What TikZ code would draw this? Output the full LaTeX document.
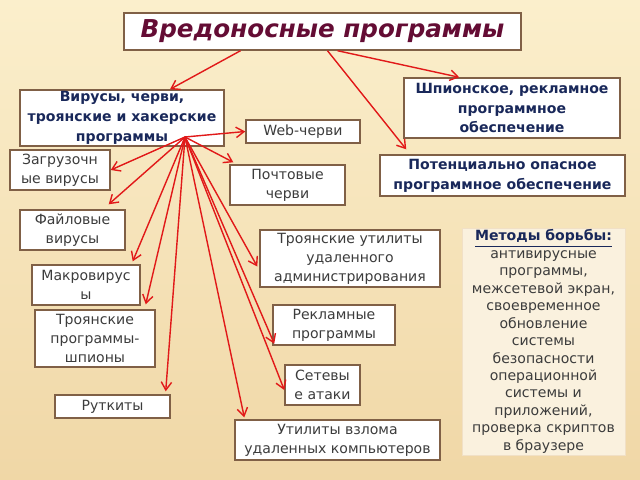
\documentclass[tikz,border=0pt]{standalone}
\usepackage{fontspec}
\setmainfont{DejaVu Sans}
\usepackage{xcolor}
\usetikzlibrary{arrows.meta, calc, positioning}
\definecolor{bgtop}{RGB}{251,239,204}
\definecolor{bgbot}{RGB}{240,215,166}
\definecolor{boxline}{RGB}{128,96,70}
\definecolor{linkred}{RGB}{225,25,25}
\definecolor{headnavy}{RGB}{25,40,90}
\definecolor{titlewine}{RGB}{100,12,52}
\definecolor{bodygray}{RGB}{60,60,60}
\definecolor{panelfill}{RGB}{250,241,222}

\begin{document}
\begin{tikzpicture}[
    x=0.025cm, y=-0.025cm,
    box/.style={draw=boxline, line width=1pt, fill=white, align=center, inner sep=1pt},
    leaf/.style={box, text=bodygray, font=\fontsize{10}{13.5}\selectfont},
    group/.style={box, text=headnavy, font=\bfseries\fontsize{10}{14}\selectfont},
    headbox/.style={box, text=titlewine, font=\bfseries\itshape\fontsize{17.5}{20}\selectfont},
    panel/.style={draw=panelfill!85!brown, fill=panelfill, align=center, text=bodygray,
                  font=\fontsize{10}{12.4}\selectfont, inner sep=1pt},
    link/.style={draw=linkred, line width=1pt, -{Straight Barb[length=2mm,width=2.6mm]}},
]

% --- Background ---
\useasboundingbox (0,0) rectangle (640,480);
\shade[top color=bgtop, bottom color=bgbot] (0,0) rectangle (640,480);

% --- Title and the three groups ---
\node[headbox, minimum width=9.925cm, minimum height=0.925cm] (top) at (322.5,31.5) {Вредоносные программы};
\node[group, minimum width=5.1cm, minimum height=1.4cm] (virus) at (122,118) {Вирусы, черви,\\троянские и хакерские\\программы};
\node[group, minimum width=5.4cm, minimum height=1.5cm] (spyware) at (512,108) {Шпионское, рекламное\\программное\\обеспечение};
\node[group, minimum width=6.125cm, minimum height=1.025cm] (risky) at (502.5,175.5) {Потенциально опасное\\программное обеспечение};

% --- Kinds of viruses, worms and trojans ---
\node[leaf, minimum width=2.85cm, minimum height=0.575cm] (webworm) at (303,131.5) {Web-черви};
\node[leaf, minimum width=2.5cm, minimum height=1cm] (boot) at (60,170) {Загрузочн\\ые вирусы};
\node[leaf, minimum width=2.875cm, minimum height=1cm] (mail) at (287.5,185) {Почтовые\\черви};
\node[leaf, minimum width=2.625cm, minimum height=1cm] (file) at (72.5,230) {Файловые\\вирусы};
\node[leaf, minimum width=4.5cm, minimum height=1.425cm] (troyutil) at (350,258.5) {Троянские утилиты\\удаленного\\администрирования};
\node[leaf, minimum width=2.7cm, minimum height=1cm] (macro) at (86,285) {Макровирус\\ы};
\node[leaf, minimum width=3cm, minimum height=1.425cm] (spy) at (95,338.5) {Троянские\\программы-\\шпионы};
\node[leaf, minimum width=3.05cm, minimum height=1cm] (advert) at (334,325) {Рекламные\\программы};
\node[leaf, minimum width=1.875cm, minimum height=1cm] (netatk) at (322.5,385) {Сетевы\\е атаки};
\node[leaf, minimum width=2.875cm, minimum height=0.575cm] (rootkit) at (112.5,406.5) {Руткиты};
\node[leaf, minimum width=5.125cm, minimum height=1cm] (hack) at (337.5,440) {Утилиты взлома\\удаленных компьютеров};

% --- Methods panel ---
\node[panel, minimum width=4.075cm, minimum height=5.675cm] (fight) at (543.5,341.5)
    {{\color{headnavy}\bfseries\underline{Методы борьбы:}}\\антивирусные\\программы,\\межсетевой экран,\\своевременное\\обновление\\системы\\безопасности\\операционной\\системы и\\приложений,\\проверка скриптов\\в браузере};

% --- Arrows from the title ---
\draw[link] ($(top.south)+(-82,0)$) -- ($(virus.north)+(48,0)$);
\draw[link] ($(top.south)+(15,0)$) -- ($(spyware.north west)+(56,0)$);
\draw[link] ($(top.south)+(5,0)$) -- ($(risky.north west)+(27,-5)$);

% --- Fan of arrows out of the first group ---
\coordinate (hub) at (185,137);
\draw[link] (hub) -- (webworm.west);
\draw[link] (hub) -- (boot.east);
\draw[link] (hub) -- ($(mail.north west)+(4,-2)$);
\draw[link] (hub) -- ($(file.north east)+(-17,-5)$);
\draw[link] (hub) -- ($(troyutil.west)+(-2,8)$);
\draw[link] (hub) -- ($(macro.north east)+(-8,-3)$);
\draw[link] (hub) -- ($(spy.north east)+(-10,-5)$);
\draw[link] (hub) -- ($(advert.south west)+(2,-2)$);
\draw[link] (hub) -- ($(netatk.west)+(0,5)$);
\draw[link] (hub) -- ($(rootkit.north east)+(-5,-3)$);
\draw[link] (hub) -- ($(hack.north west)+(10,-2)$);

\end{tikzpicture}
\end{document}
